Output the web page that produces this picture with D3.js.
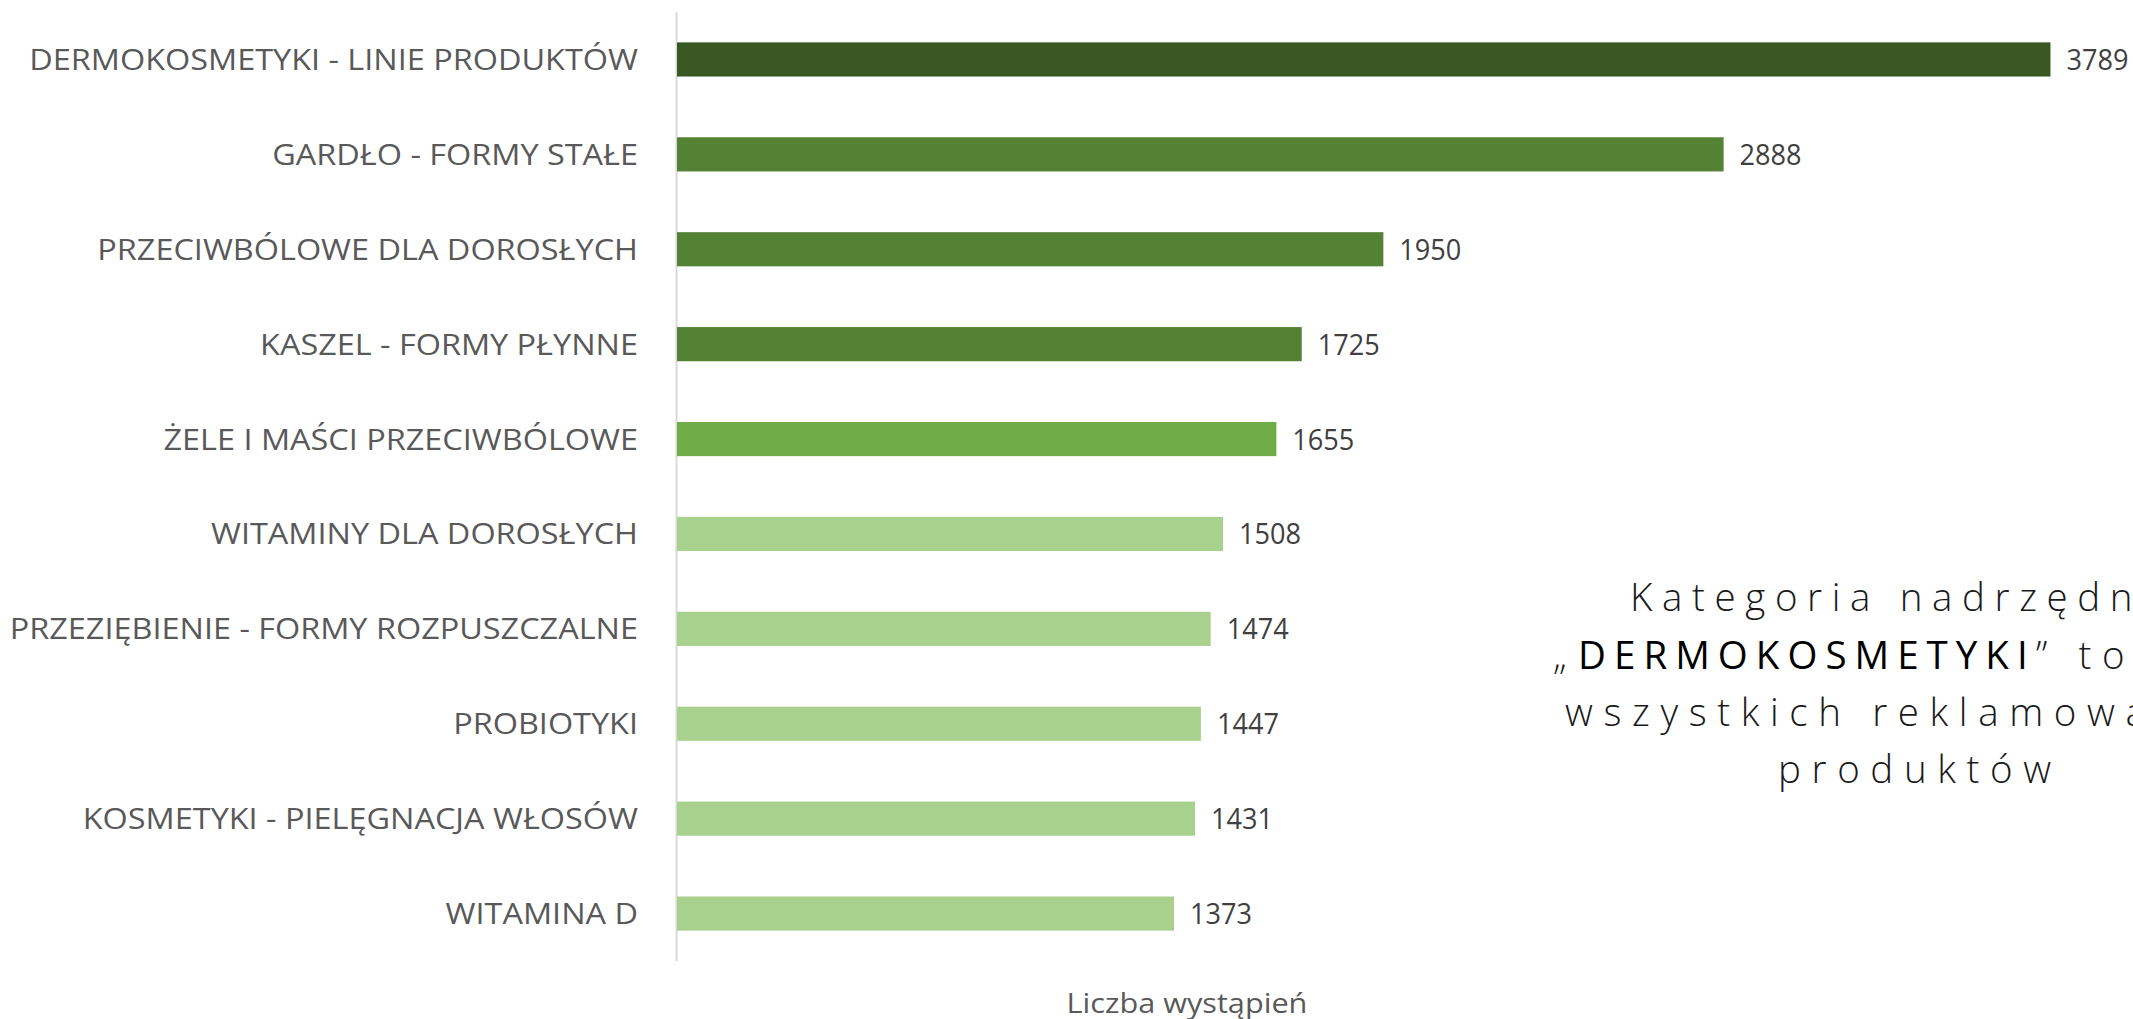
<!DOCTYPE html>
<html>
<head>
<meta charset="utf-8">
<script src="https://cdn.jsdelivr.net/npm/d3@7"></script>
<style>
  html, body { margin: 0; padding: 0; background: #ffffff; overflow: hidden; }
  svg { display: block; }
</style>
</head>
<body>
<svg id="chart" width="2133" height="1019"></svg>
<script>
// ---- data ----
const categories = [
  "DERMOKOSMETYKI - LINIE PRODUKTÓW",
  "GARDŁO - FORMY STAŁE",
  "PRZECIWBÓLOWE DLA DOROSŁYCH",
  "KASZEL - FORMY PŁYNNE",
  "ŻELE I MAŚCI PRZECIWBÓLOWE",
  "WITAMINY DLA DOROSŁYCH",
  "PRZEZIĘBIENIE - FORMY ROZPUSZCZALNE",
  "PROBIOTYKI",
  "KOSMETYKI - PIELĘGNACJA WŁOSÓW",
  "WITAMINA D"
];
const values = [3789, 2888, 1950, 1725, 1655, 1508, 1474, 1447, 1431, 1373];
const axisTitle = "Liczba wystąpień";
const noteLines = [
  [{t: "Kategoria nadrzędna", strong: false}],
  [{t: "„", strong: false}, {t: "DERMOKOSMETYKI", strong: true}, {t: "” to", strong: false}],
  [{t: "wszystkich reklamowanych", strong: false}],
  [{t: "produktów", strong: false}]
];

// ---- styles ----
const barColors = ["#385723", "#548235", "#548235", "#548235", "#70AD47",
                   "#A9D18E", "#A9D18E", "#A9D18E", "#A9D18E", "#A9D18E"];
const FONT = "'Open Sans', 'Noto Sans', sans-serif";

const svg = d3.select("#chart");

const x = d3.scaleLinear().domain([0, 4000]).range([676, 2127]);
const y = d3.scaleBand().domain(categories).range([12, 961])
  .paddingInner(0.64).paddingOuter(0.32);

// axis line (category axis)
const yAxis = d3.axisLeft(y).tickSize(0).tickFormat("");
const gAxis = svg.append("g").attr("transform", `translate(${x(0)},0)`).call(yAxis);
gAxis.select(".domain").attr("stroke", "#d9d9d9").attr("stroke-width", 2);

// bars
svg.append("g").selectAll("rect").data(values).join("rect")
  .attr("x", x(0) + 1)
  .attr("y", (d, i) => y(categories[i]))
  .attr("width", d => x(d) - x(0) - 1)
  .attr("height", y.bandwidth())
  .attr("fill", (d, i) => barColors[i]);

// helper to horizontally scale text to a target width
function fitScale(text, size, weight, target) {
  const t = svg.append("text").attr("font-family", FONT).attr("font-size", size)
    .attr("font-weight", weight).text(text);
  const w = t.node().getComputedTextLength();
  t.remove();
  return target / w;
}

// category labels
const catSize = 29.4;
const kCat = fitScale(categories[0], catSize, 400, 609);
svg.append("g").selectAll("text").data(categories).join("text")
  .attr("transform", d => `translate(638,${y(d) + y.bandwidth() / 2 + 10.5}) scale(${kCat},1)`)
  .attr("text-anchor", "end")
  .attr("font-family", FONT)
  .attr("font-size", catSize)
  .attr("fill", "#595959")
  .text(d => d);

// data labels
const valSize = 29.4;
const kVal = fitScale("3789", valSize, 400, 62);
svg.append("g").selectAll("text").data(values).join("text")
  .attr("transform", (d, i) => `translate(${x(d) + 16},${y(categories[i]) + y.bandwidth() / 2 + 10.5}) scale(${kVal},1)`)
  .attr("font-family", FONT)
  .attr("font-size", valSize)
  .attr("fill", "#404040")
  .text(d => d);

// axis title
const titleSize = 28;
const kTitle = fitScale(axisTitle, titleSize, 400, 241);
svg.append("text")
  .attr("transform", `translate(1187,1013) scale(${kTitle},1)`)
  .attr("text-anchor", "middle")
  .attr("font-family", FONT)
  .attr("font-size", titleSize)
  .attr("fill", "#595959")
  .text(axisTitle);

// annotation text
const noteSize = 38.5;
// letter spacing chosen so that "produktów" spans ~273px
const probe = svg.append("text").attr("font-family", FONT).attr("font-size", noteSize)
  .attr("font-weight", 300).text("produktów");
const baseW = probe.node().getComputedTextLength();
probe.remove();
const ls = Math.max(0, (273 - baseW) / 8);
const noteX = [1630, 1553, 1565, 1778];
const noteY = [611, 669, 726, 783];
const lsAdj = [-1, 0, 0, 0];
noteLines.forEach((parts, li) => {
  const t = svg.append("text")
    .attr("x", noteX[li]).attr("y", noteY[li])
    .attr("font-family", FONT)
    .attr("font-size", noteSize)
    .attr("fill", "#1a1a1a");
  parts.forEach(p => {
    t.append("tspan")
      .attr("font-weight", p.strong ? 500 : 300)
      .attr("letter-spacing", p.strong ? ls - 2.6 : ls + lsAdj[li])
      .attr("fill", p.strong ? "#000000" : "#1a1a1a")
      .text(p.t);
  });
});
</script>
</body>
</html>
